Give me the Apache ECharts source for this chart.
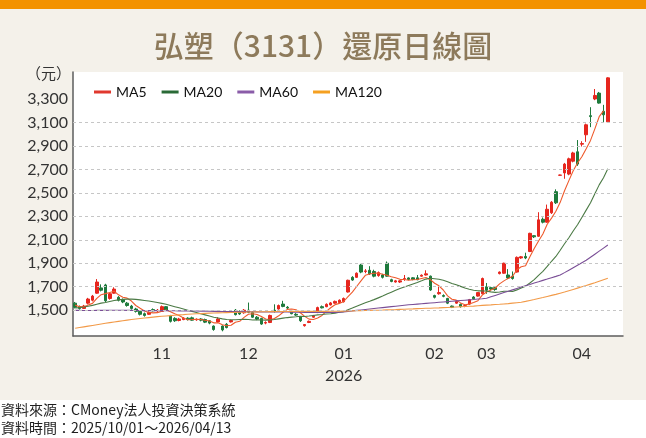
<!DOCTYPE html>
<html><head><meta charset="utf-8">
<script src="https://cdn.jsdelivr.net/npm/echarts@6/dist/echarts.min.js"></script>
<style>
html,body{margin:0;padding:0;background:#fff;}
#chart{width:646px;height:438px;background:linear-gradient(to bottom,#f39200 0,#f39200 9px,#f4f1ea 9px,#f4f1ea 400px,#ffffff 400px);}
</style></head><body><div id="chart"></div>
<script>
// trading days per month
const tradingDays = [
  ['2025/10', [1,2,3,7,8,9,13,14,15,16,17,20,21,22,23,27,28,29,30,31]],
  ['2025/11', [3,4,5,6,7,10,11,12,13,14,17,18,19,20,21,24,25,26,27,28]],
  ['2025/12', [1,2,3,4,5,8,9,10,11,12,15,16,17,18,19,22,23,24,26,29,30,31]],
  ['2026/01', [2,5,6,7,8,9,12,13,14,15,16,19,20,21,22,23,26,27,28,29,30]],
  ['2026/02', [2,3,4,5,6,9,10,11,23,24,25,26]],
  ['2026/03', [2,3,4,5,6,9,10,11,12,13,16,17,18,19,20,23,24,25,26,27,30,31]],
  ['2026/04', [1,2,7,8,9,10,13]]
];
const opens = [1560,1530,1515,1560,1585,1645,1690,1715,1600,1645,
 1610,1590,1560,1535,1510,1490,1470,1465,1505,1495,
 1490,1530,1450,1430,1412,1420,1432,1435,1418,1425,
 1420,1410,1365,1400,1365,1380,1400,1500,1490,1478,
 1500,1480,1440,1430,1390,1395,1500,1510,1552,1525,
 1490,1465,1445,1368,1395,1440,1480,1530,1530,1545,
 1560,1565,1572,1655,1780,1780,1885,1830,1840,1830,
 1795,1800,1900,1760,1740,1740,1768,1775,1776,1776,
 1790,1800,1790,1625,1640,1625,1600,1535,1560,1550,
 1535,1552,1612,1620,1640,1700,1692,1692,1812,1815,
 1800,1790,1825,1945,1958,2000,2135,2130,2275,2250,
 2330,2510,2650,2670,2660,2770,2850,2915,2995,3158,
 3300,3350,3195,3105];
const closes = [1525,1515,1535,1595,1620,1740,1670,1580,1640,1680,
 1585,1570,1540,1515,1490,1465,1455,1480,1495,1500,
 1530,1500,1405,1410,1425,1432,1420,1415,1422,1415,
 1398,1390,1335,1425,1332,1352,1412,1462,1468,1500,
 1482,1440,1425,1382,1395,1455,1490,1540,1532,1518,
 1470,1458,1410,1378,1405,1452,1522,1520,1550,1562,
 1575,1585,1600,1755,1757,1815,1825,1835,1810,1790,
 1820,1780,1790,1745,1750,1750,1770,1762,1762,1760,
 1798,1810,1672,1610,1650,1618,1560,1525,1575,1530,
 1538,1590,1597,1650,1770,1670,1680,1676,1825,1900,
 1775,1770,1950,1955,1945,2155,2125,2270,2250,2360,
 2420,2415,2652,2745,2790,2840,2745,2920,3080,3150,
 3330,3265,3165,3480];
const lows = [1515,1505,1510,1550,1575,1640,1660,1570,1590,1640,
 1575,1560,1530,1505,1480,1455,1445,1460,1490,1485,
 1485,1495,1395,1400,1405,1415,1412,1410,1410,1405,
 1390,1380,1325,1395,1320,1345,1395,1455,1460,1470,
 1475,1435,1415,1375,1380,1390,1480,1505,1525,1510,
 1465,1450,1400,1360,1390,1435,1475,1515,1525,1540,
 1555,1560,1565,1650,1750,1775,1815,1815,1800,1780,
 1785,1770,1785,1738,1735,1732,1750,1755,1755,1755,
 1785,1795,1665,1600,1632,1610,1552,1518,1555,1522,
 1525,1545,1590,1615,1635,1640,1670,1665,1805,1810,
 1765,1760,1820,1938,1935,1995,2115,2125,2240,2245,
 2320,2405,2645,2620,2650,2760,2730,2895,2935,3060,
 3290,3260,3100,3100];
const highs = [1570,1540,1545,1605,1630,1765,1720,1725,1650,1695,
 1620,1600,1570,1545,1520,1500,1480,1490,1515,1510,
 1540,1535,1460,1440,1435,1440,1440,1445,1430,1432,
 1428,1415,1370,1440,1370,1390,1420,1510,1498,1510,
 1565,1490,1450,1435,1405,1462,1550,1548,1580,1535,
 1500,1475,1450,1382,1412,1460,1530,1540,1558,1570,
 1582,1592,1608,1760,1790,1822,1895,1850,1875,1845,
 1830,1810,1915,1768,1758,1755,1800,1780,1782,1800,
 1805,1840,1795,1632,1700,1635,1605,1540,1582,1556,
 1545,1596,1620,1655,1778,1732,1700,1700,1830,1905,
 1850,1830,1958,1962,1990,2160,2140,2335,2290,2400,
 2430,2530,2655,2755,2800,2850,2950,2940,3090,3230,
 3385,3360,3250,3485];
const ma5 = [1543,1530,1528,1544,1558,1601,1632,1641,1650,1662,
 1631,1611,1603,1578,1540,1516,1493,1481,1477,1479,
 1492,1501,1486,1469,1454,1434,1418,1420,1423,1421,
 1414,1408,1392,1393,1376,1367,1371,1397,1405,1439,
 1465,1470,1463,1446,1425,1419,1429,1452,1482,1507,
 1510,1504,1478,1447,1424,1421,1433,1455,1490,1521,
 1546,1558,1574,1615,1654,1702,1750,1797,1808,1815,
 1816,1807,1798,1785,1777,1763,1761,1755,1759,1761,
 1770,1778,1760,1730,1708,1672,1622,1593,1586,1562,
 1546,1552,1566,1581,1629,1655,1673,1689,1724,1750,
 1771,1789,1844,1870,1879,1955,2026,2090,2149,2232,
 2285,2343,2419,2518,2604,2688,2754,2808,2875,2947,
 3045,3149,3198,null];
const ma20 = [1518,1522,1527,1534,1541,1551,1560,1566,1574,1582,
 1588,1592,1594,1594,1592,1588,1583,1578,1572,1565,
 1558,1550,1540,1530,1520,1510,1500,1490,1480,1470,
 1460,1450,1440,1433,1426,1420,1418,1418,1420,1422,
 1420,1417,1418,1417,1415,1416,1420,1426,1432,1437,
 1441,1444,1448,1446,1450,1455,1460,1463,1467,1470,
 1475,1482,1488,1503,1518,1534,1549,1563,1576,1590,
 1605,1620,1637,1653,1669,1684,1697,1710,1723,1736,
 1750,1765,1772,1768,1763,1755,1743,1728,1716,1703,
 1689,1679,1670,1665,1665,1661,1656,1652,1655,1662,
 1661,1659,1673,1690,1705,1732,1760,1797,1831,1873,
 1917,1958,2011,2066,2117,2175,2228,2290,2353,2415,
 2493,2568,2629,2705];
const ma60 = [1498,1498,1497,1497,1497,1498,1498,1498,1499,1499,
 1499,1499,1498,1498,1497,1497,1496,1496,1496,1496,
 1496,1496,1495,1495,1494,1494,1494,1493,1493,1492,
 1492,1491,1490,1490,1489,1488,1488,1488,1488,1488,
 1487,1487,1486,1485,1484,1484,1484,1484,1484,1484,
 1483,1483,1482,1481,1480,1480,1480,1480,1480,1481,
 1481,1482,1486,1490,1494,1498,1502,1506,1510,1514,
 1518,1522,1526,1530,1534,1538,1542,1546,1549,1552,
 1555,1558,1561,1564,1567,1570,1573,1576,1579,1582,
 1585,1588,1591,1595,1598,1602,1614,1626,1638,1650,
 1661,1673,1685,1697,1708,1719,1731,1742,1754,1765,
 1777,1788,1800,1820,1841,1862,1883,1904,1925,1951,
 1977,2003,2029,2055];
const ma120 = [1346,1352,1358,1364,1370,1376,1382,1388,1394,1400,
 1405,1410,1415,1420,1425,1429,1433,1437,1441,1445,
 1448,1451,1454,1457,1460,1462,1465,1467,1469,1471,
 1473,1475,1476,1477,1478,1479,1480,1481,1482,1483,
 1484,1485,1486,1487,1487,1488,1488,1489,1489,1489,
 1490,1490,1490,1490,1490,1490,1490,1490,1490,1491,
 1491,1491,1492,1493,1494,1495,1496,1497,1498,1499,
 1500,1501,1503,1504,1505,1507,1508,1510,1511,1513,
 1514,1516,1517,1519,1520,1522,1523,1525,1527,1529,
 1531,1533,1535,1538,1541,1543,1545,1548,1550,1553,
 1556,1560,1564,1568,1575,1583,1591,1600,1608,1617,
 1626,1635,1645,1655,1666,1677,1688,1699,1710,1722,
 1734,1747,1760,1773];
const yTicks = [1500,1700,1900,2100,2300,2500,2700,2900,3100,3300];
const gridValues = [1500,1700,1900,2100,2300,2500,2700,2900,3100];

const dates = [];
tradingDays.forEach(([ym, days]) => days.forEach(d => dates.push(ym + '/' + String(d).padStart(2, '0'))));
const categories = dates.concat(['pad1', 'pad2', 'pad3']);
const monthStart = new Set();
dates.forEach((d, i) => { if (i > 0 && d.slice(0, 7) !== dates[i - 1].slice(0, 7)) monthStart.add(i); });
const kData = dates.map((d, i) => [opens[i], closes[i], lows[i], highs[i]]);

const latin = 'Lato, "Noto Sans CJK TC", sans-serif';
const cjk = '"Noto Sans CJK TC", sans-serif';
const chart = echarts.init(document.getElementById('chart'), null, { renderer: 'canvas' });

function maSeries(name, data, lineColor, iconColor) {
  return {
    type: 'line', name, data, showSymbol: false, symbol: 'none', z: 3,
    lineStyle: { width: 1.1, color: lineColor },
    itemStyle: { color: iconColor },
    emphasis: { disabled: true }
  };
}

chart.setOption({
  animation: false,
  backgroundColor: 'transparent',
  title: {
    text: '弘塑（3131）還原日線圖', left: 'center', top: 26,
    textStyle: { fontSize: 30, fontWeight: 500, color: '#8d7a5b', fontFamily: cjk }
  },
  legend: {
    data: ['MA5', 'MA20', 'MA60', 'MA120'], left: 89, top: 80,
    icon: 'rect', itemWidth: 17, itemHeight: 3, itemGap: 15,
    textStyle: { fontSize: 14, color: '#111', fontFamily: latin }
  },
  grid: { left: 73, right: 23, top: 72, bottom: 102, show: true, backgroundColor: '#ffffff', borderWidth: 0 },
  xAxis: {
    type: 'category', data: categories, boundaryGap: true,
    axisLine: { lineStyle: { color: '#5c5c5c', width: 1.5 } },
    axisTick: { show: false },
    splitLine: { show: false },
    axisLabel: {
      interval: (idx) => monthStart.has(idx),
      formatter: (v) => { const m = v.slice(5, 7); return m === '01' ? '01\n2026' : m; },
      fontSize: 16, color: '#333', lineHeight: 22, margin: 7, fontFamily: latin
    }
  },
  yAxis: {
    type: 'value', min: 1280, max: 3530, scale: true,
    axisLine: { show: true, lineStyle: { color: '#5c5c5c', width: 1.5 } },
    axisTick: { show: false },
    splitLine: { show: false },
    axisLabel: {
      customValues: yTicks,
      formatter: (v) => Number(v).toLocaleString('en-US'),
      fontSize: 16, color: '#333', margin: 5, fontFamily: latin
    }
  },
  graphic: [
    { type: 'text', left: 26, top: 66, style: { text: '（元）', font: '15px "Noto Sans CJK TC"', fill: '#333' } },
    { type: 'text', left: 1, top: 403, style: { text: '資料來源：CMoney法人投資決策系統', font: '14px "Noto Sans CJK TC"', fill: '#1e1e1e' } },
    { type: 'text', left: 1, top: 421, style: { text: '資料時間：2025/10/01～2026/04/13', font: '14px "Noto Sans CJK TC"', fill: '#1e1e1e' } }
  ],
  series: [
    {
      type: 'line', name: 'gridlines', data: [], z: 1, silent: true,
      markLine: {
        silent: true, symbol: ['none', 'none'], label: { show: false },
        lineStyle: { type: [3, 3], color: '#c6c6c6', width: 1 },
        data: gridValues.map(v => ({ yAxis: v }))
      }
    },
    {
      type: 'candlestick', name: 'K', data: kData, barWidth: 3, z: 2,
      itemStyle: { color: '#e6261e', color0: '#1e7a3c', borderColor: '#e6261e', borderColor0: '#1e7a3c', borderWidth: 1 }
    },
    maSeries('MA5', ma5, '#ee5a2c', '#e0382e'),
    maSeries('MA20', ma20, '#4b7a45', '#2a6a36'),
    maSeries('MA60', ma60, '#7a4e96', '#8a5ca8'),
    maSeries('MA120', ma120, '#f29a48', '#f5a020')
  ]
});
</script></body></html>
